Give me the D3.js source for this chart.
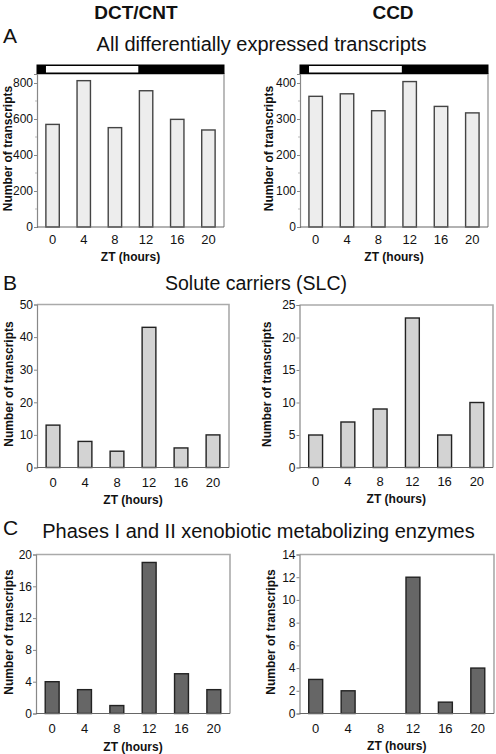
<!DOCTYPE html>
<html><head><meta charset="utf-8">
<script src="https://cdn.jsdelivr.net/npm/d3@7"></script>
<style>
html,body{margin:0;padding:0;background:#fff;}
svg{display:block;font-family:"Liberation Sans",Arial,sans-serif;}
</style></head>
<body>
<svg id="chart" width="496" height="754"></svg>
<script>
// ---- data ----
const ztHours = ["0","4","8","12","16","20"];
const tissueNames = ["DCT/CNT","CCD"];
const panelLetters = ["A","B","C"];
const panelTitles = ["All differentially expressed transcripts","Solute carriers (SLC)","Phases I and II xenobiotic metabolizing enzymes"];
const allDctCnt = [570, 813, 552, 757, 598, 539];
const allCcd = [363, 370, 323, 404, 335, 317];
const slcDctCnt = [13, 8, 5, 43, 6, 10];
const slcCcd = [5, 7, 9, 23, 5, 10];
const xenoDctCnt = [4, 3, 1, 19, 5, 3];
const xenoCcd = [3, 2, 0, 12, 1, 4];
const yTicksAllDct = [0, 200, 400, 600, 800];
const yTicksAllCcd = [0, 100, 200, 300, 400];
const yTicksSlcDct = [0, 10, 20, 30, 40, 50];
const yTicksSlcCcd = [0, 5, 10, 15, 20, 25];
const yTicksXenoDct = [0, 4, 8, 12, 16, 20];
const yTicksXenoCcd = [0, 2, 4, 6, 8, 10, 12, 14];
const lightPeriod = [-0.85, 11]; // ZT hours of the white (light) segment
const yLabel = "Number of transcripts";
const xLabel = "ZT (hours)";

const svg = d3.select("#chart");

function panel(o) {
  const g = svg.append("g");
  const x = d3.scaleBand().domain(ztHours).range([o.x0, o.x1]).paddingInner(0.57).paddingOuter(0.285);
  const y = d3.scaleLinear().domain([0, o.ymax]).range([o.yb, o.yt]);
  g.append("path").attr("d", `M${o.x0},${o.yt}H${o.x1}V${o.yb}`)
    .attr("fill","none").attr("stroke","#aaa").attr("stroke-width",1.6);
  g.selectAll("rect.bar").data(o.values).join("rect").attr("class","bar")
    .attr("x",(d,i)=>x(ztHours[i])).attr("width",x.bandwidth())
    .attr("y",d=>y(d)).attr("height",d=>y(0)-y(d))
    .attr("fill",o.fill).attr("stroke",o.stroke).attr("stroke-width",1.4)
    .attr("display",d=>d>0?null:"none");
  if (o.minor) {
    g.selectAll("line.minor").data(o.minor).join("line").attr("class","minor")
      .attr("x1",o.x0-2).attr("x2",o.x0).attr("y1",d=>y(d)).attr("y2",d=>y(d))
      .attr("stroke","#bbb").attr("stroke-width",1);
  }
  const ya = g.append("g").attr("transform",`translate(${o.x0},0)`)
    .call(d3.axisLeft(y).tickValues(o.ticks).tickSize(3).tickPadding(1).tickFormat(d3.format("d")));
  ya.select(".domain").attr("stroke","#888").attr("stroke-width",1.2);
  ya.selectAll(".tick line").attr("stroke","#888");
  ya.selectAll(".tick text").attr("font-size",12).attr("fill","#111").attr("font-family","Liberation Sans, Arial, sans-serif");
  g.append("line").attr("x1",o.x0).attr("x2",o.x1).attr("y1",y(0)).attr("y2",y(0))
    .attr("stroke","#666").attr("stroke-width",1.2);
  g.selectAll("text.xt").data(ztHours).join("text").attr("class","xt")
    .attr("x",d=>x(d)+x.bandwidth()/2).attr("y",o.xtY)
    .attr("text-anchor","middle").attr("font-size",13).attr("fill","#111").text(d=>d);
  g.append("text").attr("x",(o.x0+o.x1)/2).attr("y",o.xlY).attr("text-anchor","middle")
    .attr("font-size",12).attr("font-weight","bold").attr("fill","#111").text(xLabel);
  g.append("text").attr("transform",`translate(${o.ylX},${(o.yt+o.yb)/2 - 2}) rotate(-90)`)
    .attr("text-anchor","middle").attr("font-size",12).attr("font-weight","bold").attr("fill","#111").text(yLabel);
  if (o.lightbar) {
    const h = d3.scaleLinear().domain([-2, 22]).range([o.x0, o.x1]);
    g.append("rect").attr("x",o.x0-0.5).attr("y",o.yt-9.5).attr("width",o.x1-o.x0+1).attr("height",9.5).attr("fill","#000");
    g.append("rect").attr("x",h(lightPeriod[0])).attr("y",o.yt-8).attr("width",h(lightPeriod[1])-h(lightPeriod[0])).attr("height",6.5).attr("fill","#fff");
  }
}

svg.selectAll("text.tissue").data(tissueNames).join("text").attr("class","tissue")
  .attr("x",(d,i)=>[136,393][i]).attr("y",19).attr("text-anchor","middle")
  .attr("font-size",19).attr("font-weight","bold").attr("fill","#111").text(d=>d);
const letterY = [43, 290, 535];
const titleY = [50.5, 290, 538];
const titleX = [261.5, 256, 258.5];
const titleSize = [20, 19.5, 20];
svg.selectAll("text.letter").data(panelLetters).join("text").attr("class","letter")
  .attr("x",3).attr("y",(d,i)=>letterY[i]).attr("font-size",21).attr("fill","#111").text(d=>d);
svg.selectAll("text.ptitle").data(panelTitles).join("text").attr("class","ptitle")
  .attr("x",(d,i)=>titleX[i]).attr("y",(d,i)=>titleY[i]).attr("text-anchor","middle")
  .attr("font-size",(d,i)=>titleSize[i]).attr("fill","#111").text(d=>d);

const fillA = "#ededed", fillB = "#d3d3d3", fillC = "#666";
panel({x0:37,x1:224,yt:74,yb:227,ymax:850,values:allDctCnt,ticks:yTicksAllDct,minor:[100,300,500,700],fill:fillA,stroke:"#444",xtY:244,xlY:261,ylX:12,lightbar:true});
panel({x0:300,x1:488,yt:74,yb:227,ymax:425,values:allCcd,ticks:yTicksAllCcd,minor:[50,150,250,350],fill:fillA,stroke:"#444",xtY:243.5,xlY:261,ylX:272.5,lightbar:true});
panel({x0:37,x1:229,yt:304.5,yb:467.5,ymax:50,values:slcDctCnt,ticks:yTicksSlcDct,fill:fillB,stroke:"#222",xtY:486.5,xlY:504,ylX:12.5});
panel({x0:299.5,x1:493,yt:305,yb:467.5,ymax:25,values:slcCcd,ticks:yTicksSlcCcd,fill:fillB,stroke:"#222",xtY:486,xlY:503,ylX:271});
panel({x0:36,x1:230,yt:554.5,yb:713.5,ymax:20,values:xenoDctCnt,ticks:yTicksXenoDct,fill:fillC,stroke:"#222",xtY:732.5,xlY:751,ylX:12.5});
panel({x0:299.5,x1:494,yt:554.5,yb:713.5,ymax:14,values:xenoCcd,ticks:yTicksXenoCcd,fill:fillC,stroke:"#222",xtY:732.5,xlY:750,ylX:274.5});
</script>
</body></html>
